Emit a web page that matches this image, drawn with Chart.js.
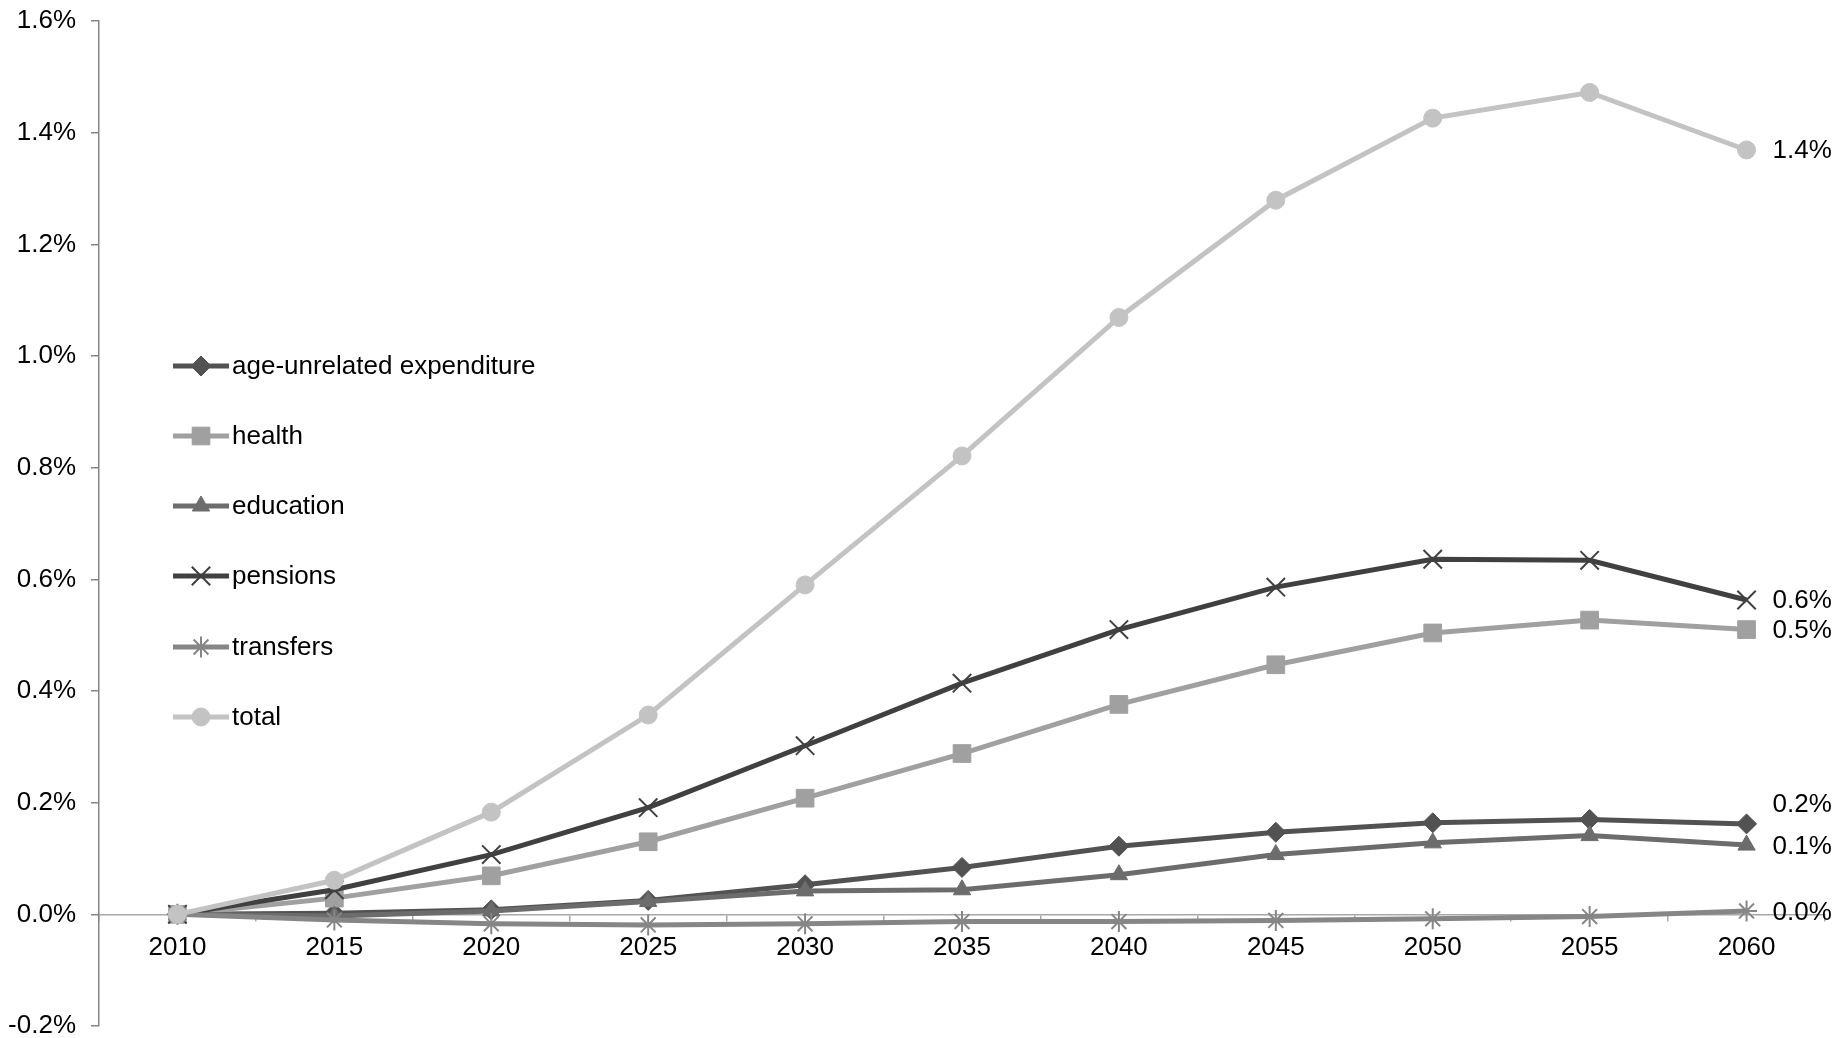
<!DOCTYPE html>
<html><head><meta charset="utf-8">
<script src="https://cdn.jsdelivr.net/npm/chart.js@4/dist/chart.umd.min.js"></script>
<style>html,body{margin:0;padding:0;background:#fff}canvas{display:block}</style>
</head><body>
<canvas id="c" width="1837" height="1038"></canvas>
<script>
const years = ['2010','2015','2020','2025','2030','2035','2040','2045','2050','2055','2060'];
const seriesNames = ['age-unrelated expenditure','health','education','pensions','transfers','total'];
const ageUnrelated = [0, 0.002, 0.008, 0.025, 0.053, 0.084, 0.122, 0.147, 0.164, 0.170, 0.162];
const health       = [0, 0.029, 0.069, 0.130, 0.208, 0.288, 0.376, 0.447, 0.504, 0.527, 0.510];
const education    = [0, -0.003, 0.006, 0.023, 0.042, 0.044, 0.071, 0.107, 0.128, 0.141, 0.124];
const pensions     = [0, 0.044, 0.107, 0.191, 0.302, 0.414, 0.510, 0.586, 0.636, 0.634, 0.563];
const transfers    = [0, -0.010, -0.017, -0.019, -0.017, -0.013, -0.013, -0.011, -0.008, -0.004, 0.006];
const total        = [0, 0.061, 0.183, 0.357, 0.590, 0.821, 1.069, 1.279, 1.426, 1.472, 1.369];
const yTickValues  = [-0.2, 0, 0.2, 0.4, 0.6, 0.8, 1.0, 1.2, 1.4, 1.6];

const FONT = '"Liberation Sans", Arial, sans-serif';
const FS = 26;
const fmt = v => (Math.abs(v) < 1e-9 ? 0 : v).toFixed(1) + '%';

function mk(label, data, color, style, radius, bw, order, labelDy) {
  return {
    label, data, borderColor: color, backgroundColor: color,
    pointBackgroundColor: color, pointBorderColor: color,
    pointStyle: style, pointRadius: radius, pointHoverRadius: radius,
    pointBorderWidth: bw, borderWidth: 5, tension: 0, order, labelDy
  };
}

const datasets = [
  mk(seriesNames[0], ageUnrelated, '#525252', 'rectRot', 10, 1, 6, -19),
  mk(seriesNames[1], health,       '#a0a0a0', 'rect',    12.5, 1, 5, 1),
  mk(seriesNames[2], education,    '#6c6c6c', 'triangle', 10, 1, 4, 2),
  mk(seriesNames[3], pensions,     '#404040', 'crossRot', 13, 2, 3, 1),
  mk(seriesNames[4], transfers,    '#868686', 'star',    10.5, 2, 2, 2),
  mk(seriesNames[5], total,        '#c3c3c3', 'circle',   9, 1, 1, 1)
];

const legendPlugin = {
  id: 'customLegend',
  afterDraw(chart) {
    const ctx = chart.ctx;
    const ys = [366, 436, 506, 576, 647, 717];
    const helpers = Chart.helpers;
    chart.data.datasets.forEach((ds, i) => {
      const y = ys[i];
      ctx.save();
      ctx.strokeStyle = ds.borderColor;
      ctx.lineWidth = ds.borderWidth;
      ctx.lineCap = 'butt';
      ctx.beginPath();
      ctx.moveTo(173, y); ctx.lineTo(229, y);
      ctx.stroke();
      ctx.fillStyle = ds.pointBackgroundColor;
      ctx.strokeStyle = ds.pointBorderColor;
      ctx.lineWidth = ds.pointBorderWidth;
      if (helpers && helpers.drawPoint) {
        helpers.drawPoint(ctx, {pointStyle: ds.pointStyle, radius: ds.pointRadius, borderWidth: ds.pointBorderWidth, rotation: 0}, 201, y);
      }
      ctx.fillStyle = '#000';
      ctx.font = FS + 'px ' + FONT;
      ctx.textAlign = 'left';
      ctx.textBaseline = 'middle';
      ctx.fillText(ds.label, 232, y + 1);
      ctx.restore();
    });
  }
};

const labelPlugin = {
  id: 'endLabels',
  afterDatasetsDraw(chart) {
    const ctx = chart.ctx;
    ctx.save();
    ctx.fillStyle = '#000';
    ctx.font = FS + 'px ' + FONT;
    ctx.textAlign = 'left';
    ctx.textBaseline = 'middle';
    chart.data.datasets.forEach((ds, i) => {
      const meta = chart.getDatasetMeta(i);
      const pt = meta.data[meta.data.length - 1];
      const v = ds.data[ds.data.length - 1];
      ctx.fillText(fmt(v), pt.x + 26, pt.y + (ds.labelDy || 0));
    });
    ctx.restore();
  }
};

new Chart(document.getElementById('c'), {
  type: 'line',
  data: { labels: years, datasets },
  plugins: [labelPlugin, legendPlugin],
  options: {
    responsive: false,
    animation: false,
    devicePixelRatio: 1,
    layout: { autoPadding: false, padding: { top: 21, bottom: 12, left: 0, right: 12 } },
    plugins: { legend: { display: false }, tooltip: { enabled: false } },
    scales: {
      x: {
        type: 'category',
        position: { y: 0 },
        offset: true,
        grid: { display: true, offset: true, drawOnChartArea: false, drawTicks: true, tickLength: 6, color: '#a8a8a8', lineWidth: 1.5 },
        border: { display: true, color: '#a8a8a8', width: 1.5 },
        ticks: { color: '#000', font: { size: FS, family: FONT }, padding: 12, maxRotation: 0, autoSkip: false }
      },
      y: {
        min: -0.2, max: 1.6,
        afterBuildTicks(s) { s.ticks = yTickValues.map(v => ({ value: v })); },
        afterFit(s) { s.width = 99; s.paddingTop = 0; s.paddingBottom = 0; },
        grid: { display: true, drawOnChartArea: false, drawTicks: true, tickLength: 8, color: '#868686', lineWidth: 1.5 },
        border: { display: true, color: '#868686', width: 1.5 },
        ticks: { color: '#000', font: { size: FS, family: FONT }, padding: 15, callback: v => fmt(v) }
      }
    }
  }
});
</script>
</body></html>
